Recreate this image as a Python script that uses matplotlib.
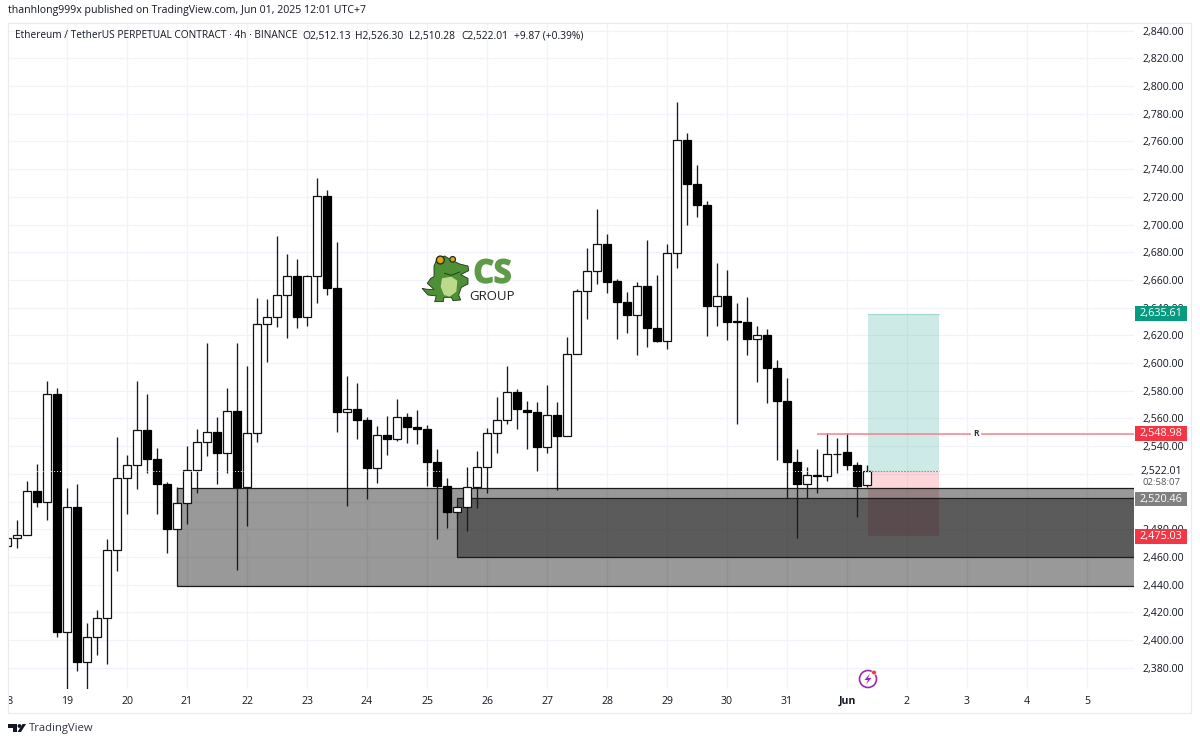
import matplotlib
matplotlib.use("Agg")
import matplotlib.pyplot as plt
import matplotlib.patheffects as pe
import numpy as np
from matplotlib.patches import Rectangle, Circle, Polygon

plt.rcParams["font.family"] = ["Open Sans", "DejaVu Sans"]

# ── data ────────────────────────────────────────────────────────────────────
# candle index 0 is 00:00 on the 19th, 6 candles per day
first_index = -6
opens = [2468, 2473.6, 2475.6, 2507.3, 2499.9, 2577.6, 2406.0, 2496.3, 2383.9, 2401.9,
         2415.6, 2465.0, 2516.7, 2526.1, 2551.4, 2530.7, 2512.4, 2480.4, 2499.2, 2522.5,
         2543.2, 2549.9, 2535.0, 2565.1, 2510.7, 2549.2, 2628.0, 2633.5, 2648.9, 2662.9,
         2633.5, 2662.9, 2720.4, 2654.0, 2564.4, 2566.6, 2558.9, 2524.4, 2548.3, 2544.9,
         2561.3, 2553.8, 2552.6, 2528.8, 2511.2, 2492.4, 2496.3, 2510.3, 2524.7, 2549.5,
         2558.9, 2578.9, 2565.8, 2564.3, 2539.3, 2562.2, 2547.5, 2606.2, 2651.7, 2666.4,
         2685.9, 2658.9, 2644.0, 2634.4, 2655.3, 2625.2, 2615.6, 2679.6, 2761.0, 2729.0,
         2714.0, 2641.4, 2648.1, 2630.0, 2629.6, 2617.0, 2620.2, 2596.4, 2572.5, 2528.7,
         2512.6, 2519.3, 2518.1, 2534.3, 2535.7, 2526.3, 2512.13]
highs = [2476, 2486.6, 2514.6, 2527.1, 2587.3, 2582.2, 2509.5, 2512.4, 2412.0, 2421.6,
         2472.7, 2546.3, 2533.3, 2587.3, 2577.4, 2538.4, 2513.8, 2510.7, 2540.3, 2552.6,
         2614.4, 2560.8, 2581.7, 2614.2, 2597.9, 2646.7, 2646.0, 2691.7, 2678.7, 2674.9,
         2663.6, 2733.6, 2725.0, 2687.4, 2590.9, 2585.4, 2560.8, 2554.5, 2561.5, 2574.0,
         2564.0, 2566.1, 2555.0, 2537.7, 2517.0, 2497.0, 2524.7, 2536.5, 2552.9, 2575.2,
         2597.9, 2581.5, 2572.8, 2572.0, 2584.1, 2572.0, 2619.0, 2653.4, 2683.0, 2710.9,
         2692.9, 2660.4, 2651.2, 2658.5, 2688.8, 2663.5, 2685.7, 2788.2, 2766.3, 2743.2,
         2717.2, 2672.2, 2667.1, 2643.5, 2647.9, 2626.7, 2624.5, 2602.1, 2588.9, 2537.6,
         2525.1, 2537.6, 2549.7, 2545.8, 2549.7, 2528.7, 2526.30]
lows = [2466, 2466.7, 2475.6, 2496.0, 2486.6, 2402.2, 2364.6, 2377.6, 2364.6, 2388.9,
        2382.6, 2449.8, 2491.0, 2509.3, 2520.3, 2491.0, 2463.1, 2480.4, 2483.5, 2505.9,
        2532.9, 2512.9, 2520.3, 2450.5, 2482.3, 2543.0, 2601.0, 2626.3, 2618.3, 2625.1,
        2627.0, 2643.1, 2649.4, 2550.0, 2496.8, 2544.9, 2501.6, 2513.6, 2533.6, 2544.0,
        2542.5, 2541.5, 2511.2, 2473.0, 2481.0, 2488.0, 2479.0, 2495.1, 2505.9, 2534.8,
        2556.0, 2552.6, 2537.6, 2521.7, 2535.0, 2508.3, 2547.5, 2606.2, 2632.0, 2657.0,
        2650.8, 2617.0, 2621.9, 2605.5, 2611.8, 2615.1, 2610.1, 2668.8, 2699.4, 2705.2,
        2619.7, 2626.9, 2616.8, 2555.7, 2605.5, 2586.2, 2571.3, 2529.9, 2502.2, 2473.4,
        2502.2, 2505.9, 2514.8, 2520.8, 2522.7, 2488.5, 2510.28]
closes = [2474, 2475.6, 2507.3, 2499.9, 2577.6, 2406.0, 2496.3, 2383.9, 2401.9, 2415.6,
          2465.0, 2516.7, 2526.1, 2551.4, 2530.7, 2512.4, 2480.4, 2499.2, 2522.5, 2543.2,
          2549.9, 2535.0, 2565.1, 2510.7, 2549.2, 2628.0, 2633.5, 2648.9, 2662.9, 2633.5,
          2662.9, 2720.4, 2654.0, 2564.4, 2567.0, 2558.9, 2524.4, 2548.3, 2544.9, 2561.3,
          2553.8, 2552.6, 2528.6, 2511.2, 2492.4, 2496.3, 2510.3, 2524.7, 2549.5, 2558.9,
          2578.9, 2566.6, 2564.3, 2539.3, 2562.2, 2547.5, 2606.2, 2651.7, 2666.4, 2685.9,
          2658.7, 2643.8, 2634.4, 2655.3, 2625.0, 2615.6, 2679.6, 2761.0, 2729.0, 2714.0,
          2641.4, 2648.1, 2629.6, 2629.3, 2617.0, 2620.2, 2596.4, 2572.5, 2528.7, 2512.6,
          2519.3, 2518.1, 2534.3, 2534.3, 2526.3, 2511.1, 2522.01]

price_ticks = np.arange(2380, 2841, 20)
hidden_ticks = [2500, 2520]  # covered by the last price labels
day_ticks = [0, 6, 12, 18, 24, 30, 36, 42, 48, 54, 60, 66, 72, 78, 84, 90, 96, 102]
day_labels = ["19", "20", "21", "22", "23", "24", "25", "26", "27", "28", "29", "30", "31",
              "Jun", "2", "3", "4", "5"]

# zones: start index, low, high
zone_start = [11, 39]
zone_low = [2439.2, 2460.0]
zone_high = [2509.5, 2502.5]

# long position box
pos_start, pos_end = 80.1, 87.2
pos_target, pos_entry, pos_stop = 2635.61, 2522.01, 2475.03
level_start, level_price = 75, 2548.98

# ── layout: everything below is pixels of the 1200x744 picture ──────────────
W, H = 1200, 744
L, R, T, B = 8, 1134, 23, 689
fig = plt.figure(figsize=(12, 7.44), dpi=100, facecolor="white")
ax = fig.add_axes([L / W, 1 - B / H, (R - L) / W, (B - T) / H])
ax.set_xlim((L - 67) / 10, (R - 67) / 10)
ax.set_ylim(2800 - (B - 86) / 1.385, 2800 + (86 - T) / 1.385)
for s in ax.spines.values():
    s.set_visible(False)

ax.set_axisbelow(True)
ax.grid(True, color="#f0f3fa", lw=0.9)
ax.yaxis.tick_right()
ax.set_yticks(price_ticks, ["" if v in hidden_ticks else f"{v:,.2f}" for v in price_ticks])
ax.set_xticks(day_ticks, day_labels)
ax.tick_params(axis="y", length=0, pad=6, labelsize=7.6, labelcolor="#131722")
ax.tick_params(axis="x", length=0, pad=5, labelsize=7.6, labelcolor="#131722")
ax.get_xticklabels()[day_labels.index("Jun")].set_fontweight("bold")

# position box goes under the zones, that is what makes the brown patch
ax.add_patch(Rectangle((pos_start, pos_entry), pos_end - pos_start, pos_target - pos_entry,
                       facecolor=(0.03, 0.6, 0.51, 0.2), edgecolor="none", zorder=1.8))
ax.add_patch(Rectangle((pos_start, pos_stop), pos_end - pos_start, pos_entry - pos_stop,
                       facecolor=(0.95, 0.21, 0.27, 0.2), edgecolor="none", zorder=1.8))
ax.hlines(pos_target, pos_start, pos_end, color="#9fd6cc", lw=0.8, zorder=1.9)
ax.hlines(pos_entry, pos_start, pos_end, color="#7f9f9a", lw=0.8, zorder=1.9)

# zones sit under the candles
for start, lo, hi in zip(zone_start, zone_low, zone_high):
    ax.add_patch(Rectangle((start, lo), 200, hi - lo, facecolor=(0, 0, 0, 0.4),
                           edgecolor="#1c1c1c", lw=0.9, zorder=2))

# candles
idx = np.arange(first_index, first_index + len(opens))
o, h, l, c = map(np.array, (opens, highs, lows, closes))
up = c >= o
ax.vlines(idx, l, h, color="#1a1a1a", lw=0.95, zorder=3)
ax.bar(idx[up], (c - o)[up], bottom=o[up], width=0.74, color="white", edgecolor="#111111",
       lw=0.9, zorder=3.2)
ax.bar(idx[~up], (o - c)[~up], bottom=c[~up], width=0.74, color="black", edgecolor="black",
       lw=0.9, zorder=3.2)

# dotted last price line, only shows on the dark bodies and the box
ax.hlines(pos_entry, idx[0], 300, color="white", lw=0.7, ls=(0, (1, 2)), zorder=3.5)

# level line with its R mark
ax.hlines(level_price, level_start, 200, color="#f77f8b", lw=1.1, zorder=3.6)
ax.text(90.9, level_price, "R", fontsize=6, fontweight="bold", color="#333333", ha="center",
        va="center", zorder=3.7, bbox=dict(fc="white", ec="none", pad=1.5))

# price labels on the axis
ytrans = ax.get_yaxis_transform()
ax_w = R - L
def price_label(price, text, face, fg="white", height=10.8):
    ax.add_patch(Rectangle((1 + 1 / ax_w, price - height / 2), 52 / ax_w, height, transform=ytrans,
                           facecolor=face, edgecolor="none", clip_on=False, zorder=10))
    ax.text(1 + 27 / ax_w, price, text, transform=ytrans, color=fg, fontsize=7.8, ha="center",
            va="center", zorder=11, clip_on=False)

price_label(pos_target, "2,635.61", "#089981")
price_label(level_price, "2,548.98", "#f23645")
ax.add_patch(Rectangle((1 + 1 / ax_w, 2508), 52 / ax_w, 20, transform=ytrans, facecolor="white",
                       edgecolor="none", clip_on=False, zorder=10))
ax.text(1 + 27 / ax_w, 2522.01, "2,522.01", transform=ytrans, color="#131722", fontsize=7.6,
        ha="center", va="center", zorder=11)
ax.text(1 + 27 / ax_w, 2514, "02:58:07", transform=ytrans, color="#555555", fontsize=6.8,
        ha="center", va="center", zorder=11)
price_label(2501.8, "2,520.46", "#808080")
price_label(pos_stop, "2,475.03", "#f23645")

# ── overlay in picture pixels: header, logos, frame ─────────────────────────
ov = fig.add_axes([0, 0, 1, 1], facecolor="none")
ov.set_xlim(0, W)
ov.set_ylim(H, 0)
ov.axis("off")

ov.text(7, 701, "18", fontsize=7.6, color="#131722", ha="center", va="center")
ov.add_patch(Rectangle((0, 690), 8, 22, fc="white", ec="none", zorder=3))

# frame
ov.plot([8, 1191, 1191, 8, 8], [23, 23, 713, 713, 23], color="#e8eaf0", lw=0.8, zorder=4)

ov.text(8, 10, "thanhlong999x published on TradingView.com, Jun 01, 2025 12:01 UTC+7",
        fontsize=7.6, color="#131722", va="center")
ov.text(15, 36, "Ethereum / TetherUS PERPETUAL CONTRACT · 4h · BINANCE", fontsize=7.25,
        color="#131722", va="center")
for x, s in zip([302, 355, 408.5, 461, 514.5],
                ["O2,512.13", "H2,526.30", "L2,510.28", "C2,522.01", "+9.87 (+0.39%)"]):
    ov.text(x, 36, s, fontsize=7.4, color="#131722", va="center")

# TradingView mark
ov.add_patch(Polygon([(8, 724), (17, 724), (17, 732), (12.5, 732), (12.5, 728), (8, 728)],
                     fc="#131722", ec="none"))
ov.add_patch(Circle((19.5, 726), 1.9, fc="#131722", ec="none"))
ov.add_patch(Polygon([(21, 732), (17.5, 732), (22.5, 724), (26, 724)], fc="#131722", ec="none"))
ov.text(29, 729, "TradingView", fontsize=8.1, color="#333740", va="center")

# alert icon
ov.add_patch(Circle((868, 679), 8.5, fc="none", ec="#9c27b0", lw=1.2))
ov.add_patch(Polygon([(870, 673.5), (864.5, 680), (868, 680), (866, 684.5), (871.5, 678),
                      (868, 678)], fc="#9c27b0", ec="none"))
ov.add_patch(Circle((874, 672.5), 2.3, fc="#f23645", ec="white", lw=0.4))

GREEN, DARK, BELLY = "#4f8f35", "#1f3316", "#bcd98c"
def crop_px(points):
    return [(418 + x / 3, 250 + y / 3) for x, y in points]

body = [(48, 48), (58, 25), (80, 18), (100, 30), (125, 42), (150, 48), (152, 62), (128, 74),
        (150, 85), (150, 102), (130, 112), (122, 135), (128, 150), (105, 152), (100, 142),
        (78, 142), (76, 155), (50, 155), (55, 138), (30, 135), (12, 115), (28, 118), (48, 118),
        (28, 100), (38, 85), (48, 80)]
ov.add_patch(Polygon(crop_px(body), fc=GREEN, ec=DARK, lw=0.6))
belly = [(72, 85), (100, 80), (118, 92), (115, 125), (95, 140), (78, 135), (68, 110)]
ov.add_patch(Polygon(crop_px(belly), fc=BELLY, ec="none"))
mouth = [(80, 70), (100, 76), (125, 66)]
ov.plot(*zip(*crop_px(mouth)), color=DARK, lw=0.6)
ov.add_patch(Circle((418 + 67 / 3, 250 + 30 / 3), 3.9, fc="#e7a21c", ec=DARK, lw=1.0))
ov.add_patch(Circle((418 + 104 / 3, 250 + 28 / 3), 2.8, fc="#e7a21c", ec=DARK, lw=0.9))
ov.text(492.5, 274, "CS", fontsize=23, fontweight="bold", color="#5f9b46", ha="center",
        va="center", path_effects=[pe.withStroke(linewidth=1.2, foreground="#5f9b46")])
ov.text(492, 296, "GROUP", fontsize=9.5, color="#222222", ha="center", va="center")

fig.savefig("out.png", dpi=100)
